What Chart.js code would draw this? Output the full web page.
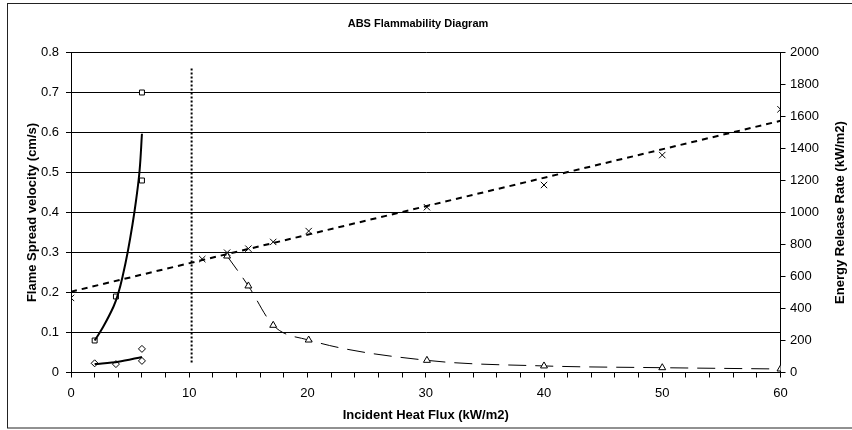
<!DOCTYPE html>
<html>
<head>
<meta charset="utf-8">
<script src="https://cdn.jsdelivr.net/npm/chart.js@4.4.1/dist/chart.umd.min.js"></script>
<style>
  body { margin: 0; background: #fff; }
  canvas { display: block; }
</style>
</head>
<body>
<canvas id="flamChart" width="852" height="430"></canvas>
<script>
// flame spread (left axis)
const squareX = [2, 3.8, 6, 6];
const squareY = [0.08, 0.19, 0.48, 0.70];
const squareFitX = [2, 2.7, 3.6, 4.0, 4.4, 4.8, 5.2, 5.5, 5.8, 6.0];
const squareFitY = [0.08, 0.113, 0.165, 0.198, 0.245, 0.302, 0.37, 0.43, 0.505, 0.597];

const diamondX = [2, 3.8, 6, 6];
const diamondY = [0.023, 0.021, 0.029, 0.059];
const diamondFitX = [2, 4, 6];
const diamondFitY = [0.021, 0.027, 0.039];

// energy release rate (right axis)
const crossX = [0, 11.1, 13.2, 15, 17.1, 20.1, 30.1, 40, 50, 60];
const crossY = [466, 709, 749, 774, 816, 884, 1033, 1172, 1359, 1645];
const crossFitX = [0, 60];
const crossFitY = [505, 1573];

const triX = [13.2, 15, 17.1, 20.1, 30.1, 40, 50, 60];
const triY = [728, 541, 295, 203, 76, 41, 30, 22];

// vertical marker at critical flux
const critX = [10.2, 10.2];
const critY = [0.025, 0.76];

const leftTicks = [0, 0.1, 0.2, 0.3, 0.4, 0.5, 0.6, 0.7, 0.8];
const rightTicks = [0, 200, 400, 600, 800, 1000, 1200, 1400, 1600, 1800, 2000];
const xLabels = [0, 10, 20, 30, 40, 50, 60];

function pts(xs, ys) {
    return xs.map((x, i) => ({ x: x, y: ys[i] }));
}

Chart.defaults.font.family = "'Liberation Sans', Arial, sans-serif";
Chart.defaults.color = '#000';

const frame = {
    id: 'frame',
    afterDraw(chart) {
        const ctx = chart.ctx;
        ctx.save();
        ctx.strokeStyle = '#222';
        ctx.lineWidth = 1;
        ctx.strokeRect(7.5, 3.5, 860, 424.5);
        // right axis title reads bottom to top
        const a = chart.chartArea;
        ctx.translate(840, (a.top + a.bottom) / 2);
        ctx.rotate(-Math.PI / 2);
        ctx.font = "bold 13px 'Liberation Sans', Arial, sans-serif";
        ctx.fillStyle = '#000';
        ctx.textAlign = 'center';
        ctx.textBaseline = 'middle';
        ctx.fillText('Energy Release Rate (kW/m2)', 0, 0);
        ctx.restore();
    }
};

const ctx = document.getElementById('flamChart').getContext('2d');
new Chart(ctx, {
    type: 'scatter',
    data: {
        datasets: [
            {
                data: pts(squareFitX, squareFitY), yAxisID: 'y', showLine: true,
                borderColor: '#000', borderWidth: 2, pointRadius: 0, tension: 0.4
            },
            {
                data: pts(diamondFitX, diamondFitY), yAxisID: 'y', showLine: true,
                borderColor: '#000', borderWidth: 2, pointRadius: 0, tension: 0.3
            },
            {
                data: pts(crossFitX, crossFitY), yAxisID: 'y2', showLine: true,
                borderColor: '#000', borderWidth: 2, borderDash: [6, 5], pointRadius: 0
            },
            {
                data: pts(critX, critY), yAxisID: 'y', showLine: true,
                borderColor: '#000', borderWidth: 2, borderDash: [2, 2], pointRadius: 0
            },
            {
                data: pts(triX, triY), yAxisID: 'y2', showLine: true,
                borderColor: '#000', borderWidth: 1, borderDash: [18, 9],
                cubicInterpolationMode: 'monotone',
                pointStyle: 'triangle', pointRadius: 4, pointBorderWidth: 1,
                pointBorderColor: '#000', pointBackgroundColor: '#fff'
            },
            {
                data: pts(squareX, squareY), yAxisID: 'y',
                pointStyle: 'rect', pointRadius: 3.5, pointBorderWidth: 1,
                pointBorderColor: '#000', pointBackgroundColor: '#fff'
            },
            {
                data: pts(diamondX, diamondY), yAxisID: 'y',
                pointStyle: 'rectRot', pointRadius: 3.5, pointBorderWidth: 1,
                pointBorderColor: '#000', pointBackgroundColor: '#fff'
            },
            {
                data: pts(crossX, crossY), yAxisID: 'y2',
                pointStyle: 'crossRot', pointRadius: 4.5, pointBorderWidth: 1,
                pointBorderColor: '#000'
            }
        ]
    },
    options: {
        responsive: false,
        animation: false,
        devicePixelRatio: 1,
        layout: { padding: { left: 0, right: 16, top: 0, bottom: 0 } },
        plugins: {
            legend: { display: false },
            tooltip: { enabled: false },
            title: {
                display: true,
                text: 'ABS Flammability Diagram',
                font: { size: 11, weight: 'bold' },
                padding: { top: 17.4, bottom: 21.9 }
            }
        },
        scales: {
            x: {
                type: 'linear', min: 0, max: 60,
                afterFit(s) { s.height = 57.5; },
                afterBuildTicks(s) { s.ticks = []; for (let v = 0; v <= 60; v += 2) s.ticks.push({ value: v }); },
                ticks: {
                    autoSkip: false, maxRotation: 0, padding: 8,
                    font: { size: 13 },
                    callback: v => xLabels.includes(Math.round(v)) && v % 10 === 0 ? String(v) : ''
                },
                grid: { drawOnChartArea: false, color: '#000', tickLength: 5 },
                border: { color: '#000', width: 1 },
                title: {
                    display: true, text: 'Incident Heat Flux (kW/m2)',
                    font: { size: 13, weight: 'bold' },
                    padding: { top: 0, bottom: 7.2 }
                }
            },
            y: {
                position: 'left', min: 0, max: 0.8,
                afterFit(s) { s.width = 71; },
                afterBuildTicks(s) { s.ticks = leftTicks.map(v => ({ value: v })); },
                ticks: { font: { size: 13 }, padding: 7, callback: v => String(Math.round(v * 10) / 10) },
                grid: { color: '#000', lineWidth: 1, tickLength: 5 },
                border: { color: '#000', width: 1 },
                title: {
                    display: true, text: 'Flame Spread velocity (cm/s)',
                    font: { size: 13, weight: 'bold' },
                    padding: { top: 24.2, bottom: 0 }
                }
            },
            y2: {
                position: 'right', min: 0, max: 2000,
                afterFit(s) { s.width = 55.5; },
                afterBuildTicks(s) { s.ticks = rightTicks.map(v => ({ value: v })); },
                ticks: { font: { size: 13 }, padding: 4.5, callback: v => String(v) },
                grid: { drawOnChartArea: false, color: '#000', tickLength: 5 },
                border: { color: '#000', width: 1 }
            }
        }
    },
    plugins: [frame]
});
</script>
</body>
</html>
